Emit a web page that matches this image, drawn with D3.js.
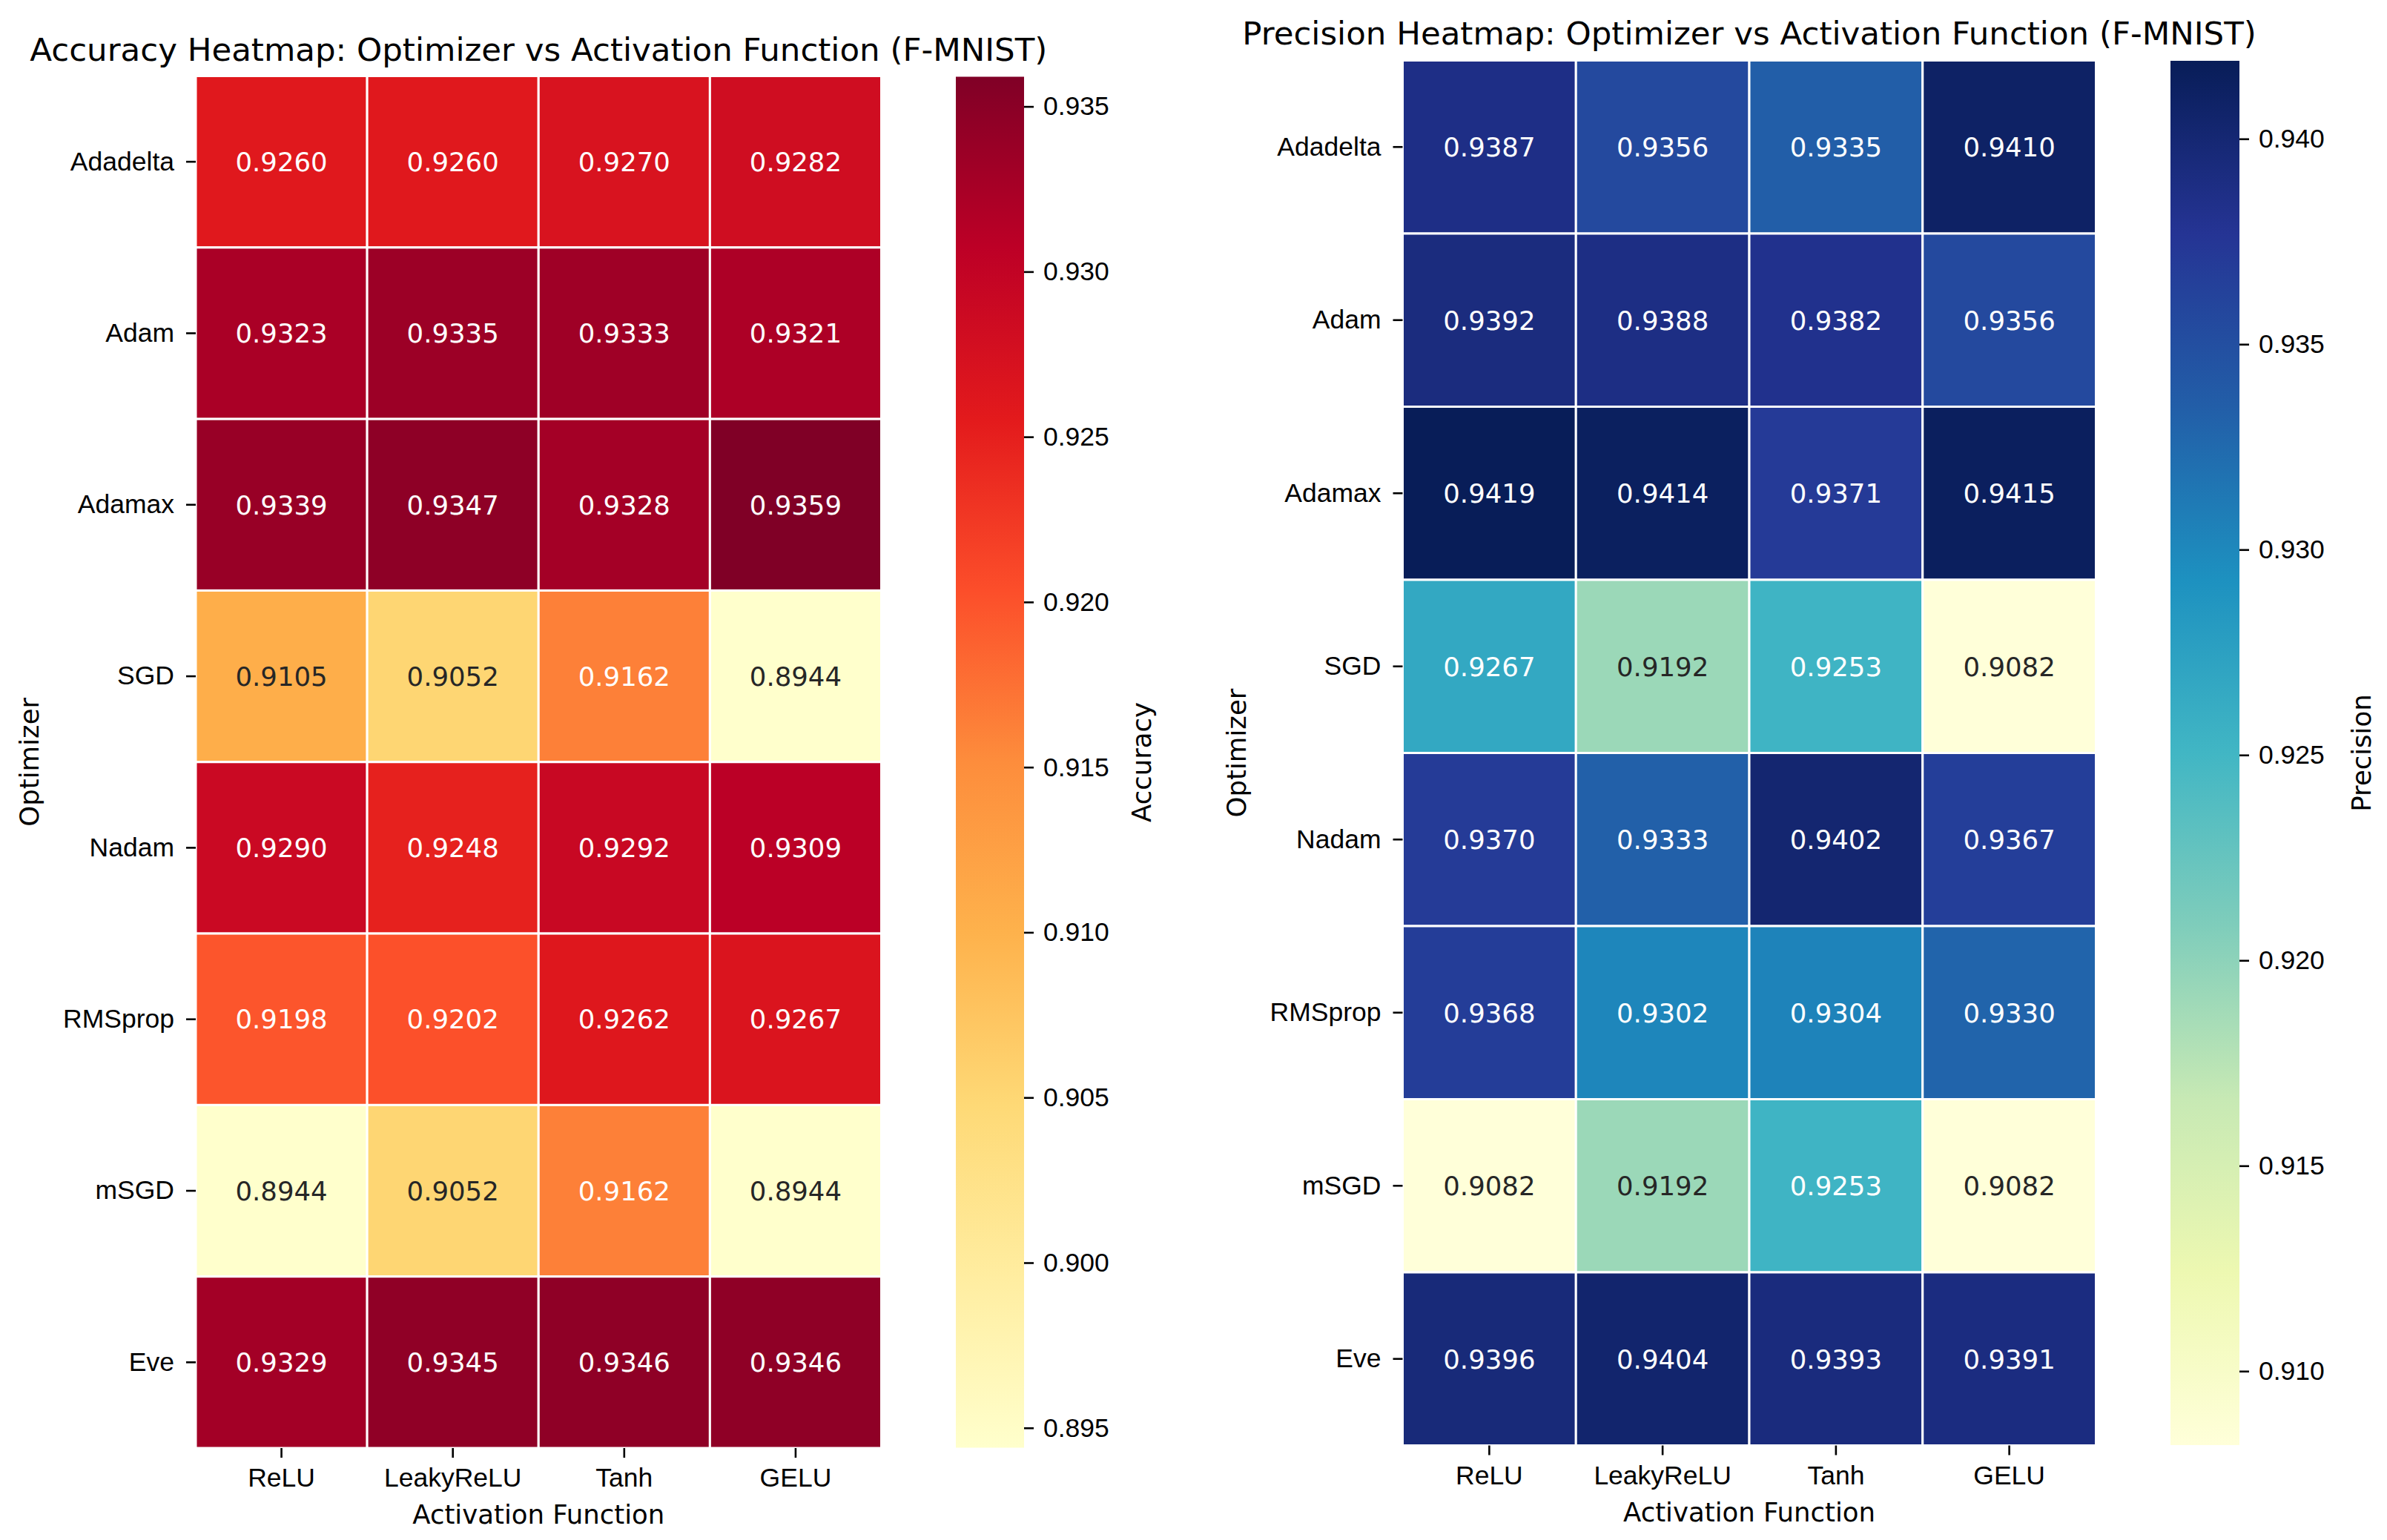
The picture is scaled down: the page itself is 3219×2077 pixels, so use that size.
<!DOCTYPE html>
<html lang="en">
<head>
    <meta charset="UTF-8">
    <script src="https://d3js.org/d3.v7.min.js"></script>
    <title>Optimizer vs Activation Function Heatmaps (F-MNIST)</title>
    <style>
        body { margin: 0; background: #fff; }
        svg { font-family: "DejaVu Sans", sans-serif; display: block; }
        .tick text { fill: #000; }
        .tick line { stroke: #000; stroke-width: 2.6px; }
    </style>
</head>
<body>
    <div id="chart"></div>

    <script>
        // Heatmap data
        const optimizers = ["Adadelta", "Adam", "Adamax", "SGD", "Nadam", "RMSprop", "mSGD", "Eve"];
        const activations = ["ReLU", "LeakyReLU", "Tanh", "GELU"];

        const accuracyValues = [
            [0.9260, 0.9260, 0.9270, 0.9282],
            [0.9323, 0.9335, 0.9333, 0.9321],
            [0.9339, 0.9347, 0.9328, 0.9359],
            [0.9105, 0.9052, 0.9162, 0.8944],
            [0.9290, 0.9248, 0.9292, 0.9309],
            [0.9198, 0.9202, 0.9262, 0.9267],
            [0.8944, 0.9052, 0.9162, 0.8944],
            [0.9329, 0.9345, 0.9346, 0.9346]
        ];

        const precisionValues = [
            [0.9387, 0.9356, 0.9335, 0.9410],
            [0.9392, 0.9388, 0.9382, 0.9356],
            [0.9419, 0.9414, 0.9371, 0.9415],
            [0.9267, 0.9192, 0.9253, 0.9082],
            [0.9370, 0.9333, 0.9402, 0.9367],
            [0.9368, 0.9302, 0.9304, 0.9330],
            [0.9082, 0.9192, 0.9253, 0.9082],
            [0.9396, 0.9404, 0.9393, 0.9391]
        ];

        const accuracyTicks = [0.895, 0.900, 0.905, 0.910, 0.915, 0.920, 0.925, 0.930, 0.935];
        const precisionTicks = [0.910, 0.915, 0.920, 0.925, 0.930, 0.935, 0.940];

        const W = 3219, H = 2077;
        const tickFont = 35.5, titleFont = 43.5;

        const svg = d3.select("#chart")
            .append("svg")
            .attr("width", W)
            .attr("height", H);

        // seaborn-style annotation colour: dark text on light cells
        function textColor(c) {
            const rgb = d3.rgb(c);
            const lin = v => {
                v = v / 255;
                return v <= 0.03928 ? v / 12.92 : Math.pow((v + 0.055) / 1.055, 2.4);
            };
            const lum = 0.2126 * lin(rgb.r) + 0.7152 * lin(rgb.g) + 0.0722 * lin(rgb.b);
            return lum > 0.408 ? "#262626" : "#ffffff";
        }

        function drawHeatmap(cfg) {
            const flat = cfg.values.flat();
            const vmin = d3.min(flat), vmax = d3.max(flat);
            const scheme = cfg.scheme;

            // piecewise-linear colormap through the 9 ColorBrewer stops
            const color = d3.scaleLinear()
                .domain(scheme.map((_, i) => vmin + i * (vmax - vmin) / (scheme.length - 1)))
                .range(scheme)
                .clamp(true);

            const x = d3.scaleBand().domain(activations).range([cfg.hm.x0, cfg.hm.x1]).padding(0);
            const y = d3.scaleBand().domain(optimizers).range([cfg.hm.y0, cfg.hm.y1]).padding(0);

            const cells = [];
            cfg.values.forEach((row, i) => row.forEach((v, j) => {
                cells.push({ opt: optimizers[i], act: activations[j], value: v });
            }));

            const g = svg.append("g");

            // Cells
            g.selectAll(".cell")
                .data(cells)
                .enter()
                .append("rect")
                .attr("class", "cell")
                .attr("x", d => x(d.act))
                .attr("y", d => y(d.opt))
                .attr("width", x.bandwidth())
                .attr("height", y.bandwidth())
                .attr("fill", d => color(d.value))
                .attr("stroke", "#fff")
                .attr("stroke-width", 3);

            // Annotations
            g.selectAll(".annot")
                .data(cells)
                .enter()
                .append("text")
                .attr("class", "annot")
                .attr("x", d => x(d.act) + x.bandwidth() / 2)
                .attr("y", d => y(d.opt) + y.bandwidth() / 2)
                .attr("dy", "0.36em")
                .attr("text-anchor", "middle")
                .style("font-size", tickFont + "px")
                .attr("fill", d => textColor(color(d.value)))
                .text(d => d3.format(".4f")(d.value));

            // Axes
            const xAxis = g.append("g")
                .attr("transform", `translate(0,${cfg.hm.y1})`)
                .call(d3.axisBottom(x).tickSize(13).tickPadding(14));
            xAxis.select(".domain").remove();
            xAxis.selectAll("text").style("font-size", tickFont + "px");

            const yAxis = g.append("g")
                .attr("transform", `translate(${cfg.hm.x0},0)`)
                .call(d3.axisLeft(y).tickSize(13).tickPadding(16));
            yAxis.select(".domain").remove();
            yAxis.selectAll("text").style("font-size", tickFont + "px");

            // Title
            g.append("text")
                .attr("x", (cfg.hm.x0 + cfg.hm.x1) / 2)
                .attr("y", cfg.titleY)
                .attr("text-anchor", "middle")
                .style("font-size", titleFont + "px")
                .text(cfg.title);

            // Axis labels
            g.append("text")
                .attr("x", (cfg.hm.x0 + cfg.hm.x1) / 2)
                .attr("y", cfg.hm.y1 + 102)
                .attr("text-anchor", "middle")
                .style("font-size", tickFont + "px")
                .text("Activation Function");

            g.append("text")
                .attr("transform", `translate(${cfg.hm.x0 - 212},${(cfg.hm.y0 + cfg.hm.y1) / 2}) rotate(-90)`)
                .attr("text-anchor", "middle")
                .style("font-size", tickFont + "px")
                .text("Optimizer");

            // Colorbar
            const gradId = "grad-" + cfg.label;
            const grad = svg.append("defs").append("linearGradient")
                .attr("id", gradId)
                .attr("x1", 0).attr("y1", 1)
                .attr("x2", 0).attr("y2", 0);
            grad.selectAll("stop")
                .data(scheme)
                .enter()
                .append("stop")
                .attr("offset", (_, i) => i / (scheme.length - 1))
                .attr("stop-color", c => c);

            g.append("rect")
                .attr("x", cfg.cb.x0)
                .attr("y", cfg.cb.y0)
                .attr("width", cfg.cb.x1 - cfg.cb.x0)
                .attr("height", cfg.cb.y1 - cfg.cb.y0)
                .attr("fill", `url(#${gradId})`);

            const cbScale = d3.scaleLinear().domain([vmin, vmax]).range([cfg.cb.y1, cfg.cb.y0]);
            const cbAxis = g.append("g")
                .attr("transform", `translate(${cfg.cb.x1},0)`)
                .call(d3.axisRight(cbScale)
                    .tickValues(cfg.ticks)
                    .tickSize(13)
                    .tickPadding(13)
                    .tickFormat(d3.format(".3f")));
            cbAxis.select(".domain").remove();
            cbAxis.selectAll("text").style("font-size", tickFont + "px");

            g.append("text")
                .attr("transform", `translate(${cfg.cbLabelX},${(cfg.cb.y0 + cfg.cb.y1) / 2}) rotate(-90)`)
                .attr("text-anchor", "middle")
                .style("font-size", tickFont + "px")
                .text(cfg.label);
        }

        drawHeatmap({
            title: "Accuracy Heatmap: Optimizer vs Activation Function (F-MNIST)",
            label: "Accuracy",
            values: accuracyValues,
            ticks: accuracyTicks,
            scheme: d3.schemeYlOrRd[9],
            hm: { x0: 264, x1: 1188.5, y0: 102.5, y1: 1953 },
            cb: { x0: 1289, x1: 1381, y0: 103.5, y1: 1952.5 },
            cbLabelX: 1552,
            titleY: 82
        });

        drawHeatmap({
            title: "Precision Heatmap: Optimizer vs Activation Function (F-MNIST)",
            label: "Precision",
            values: precisionValues,
            ticks: precisionTicks,
            scheme: d3.schemeYlGnBu[9],
            hm: { x0: 1891.5, x1: 2826.5, y0: 81.5, y1: 1949.5 },
            cb: { x0: 2927, x1: 3020, y0: 82, y1: 1949 },
            cbLabelX: 3197,
            titleY: 60
        });
    </script>
</body>
</html>
